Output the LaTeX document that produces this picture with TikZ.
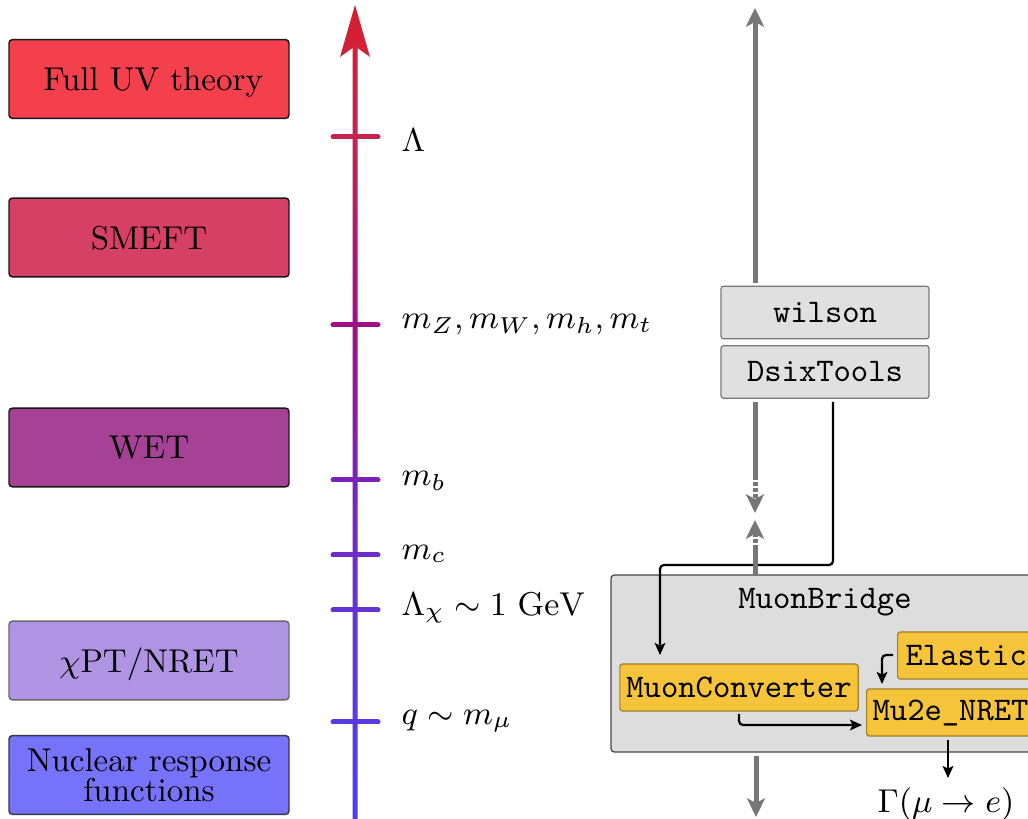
\RequirePackage{fix-cm}
\documentclass[tikz,border=0pt]{standalone}
\usetikzlibrary{arrows.meta}
\definecolor{cUV}{RGB}{244,64,77}
\definecolor{cSM}{RGB}{214,64,101}
\definecolor{cWET}{RGB}{165,66,150}
\definecolor{cCPT}{RGB}{175,148,228}
\definecolor{cNUC}{RGB}{118,114,250}
\definecolor{bdark}{RGB}{25,25,25}
\definecolor{bgrey}{RGB}{105,105,110}
\definecolor{bnuc}{RGB}{55,55,75}
\definecolor{axbot}{RGB}{75,62,245}
\definecolor{axq}{RGB}{88,60,225}
\definecolor{axchi}{RGB}{100,52,210}
\definecolor{axc}{RGB}{110,45,200}
\definecolor{axb}{RGB}{122,35,185}
\definecolor{axz}{RGB}{160,15,135}
\definecolor{axl}{RGB}{196,35,80}
\definecolor{axtop}{RGB}{215,30,45}
\definecolor{garr}{RGB}{119,119,119}
\definecolor{gfill}{RGB}{224,224,224}
\definecolor{gbord}{RGB}{120,120,120}
\definecolor{mbfill}{RGB}{221,221,221}
\definecolor{mbbord}{RGB}{70,70,70}
\definecolor{yfill}{RGB}{245,196,58}
\definecolor{ybord}{RGB}{160,125,40}
\pgfdeclareverticalshading{scaleaxis}{100bp}{color(0bp)=(axbot); color(25bp)=(axbot); color(31bp)=(axq); color(37.8bp)=(axchi); color(41.2bp)=(axc); color(45.8bp)=(axb); color(55.3bp)=(axz); color(66.9bp)=(axl); color(75bp)=(axtop); color(100bp)=(axtop)}
\newcommand\myfont{\fontsize{9.9}{9}\selectfont}
\begin{document}
\begin{tikzpicture}[x=0.3pt,y=-0.3pt,
  lbox/.style={rounded corners=1pt, line width=0.44pt, minimum width=84pt, minimum height=23.6pt, inner sep=0pt, align=center, font=\myfont},
  onel/.style={text depth=0pt},
  tickmark/.style={line width=1.5pt, line cap=round},
  tlabel/.style={anchor=west, inner sep=0pt, font=\myfont},
  gbox/.style={draw=gbord, fill=gfill, line width=0.36pt, rounded corners=0.8pt, minimum width=62.4pt, minimum height=15.8pt, inner sep=0pt, font=\myfont\ttfamily},
  ybox/.style={draw=ybord, fill=yfill, line width=0.36pt, rounded corners=0.8pt, minimum height=14.1pt, inner ysep=0pt, font=\myfont\ttfamily},
  gline/.style={draw=garr, line width=1.5pt},
  ghead/.style={-{Stealth[length=5.6pt,width=5.4pt,inset=1.4pt]}},
  barrow/.style={draw=black, line width=0.66pt, rounded corners=1.2pt, -{Stealth[length=3.6pt,width=3.2pt,inset=0.8pt]}},
  dotpat/.style={dash pattern=on 1.2pt off 0.6pt}]
\useasboundingbox (0,0) rectangle (1028,819);
\clip (0,0) rectangle (1028,819);

% left boxes
\node[lbox, onel, fill=cUV, draw=bdark] (uv) at (149,79) {\hspace{2.5pt}Full UV theory};
\node[lbox, onel, fill=cSM, draw=bdark] (smeft) at (149,237.5) {SMEFT};
\node[lbox, onel, fill=cWET, draw=bdark] (wet) at (149,447.5) {WET};
\node[lbox, onel, fill=cCPT, draw=bgrey] (cpt) at (149,660.5) {$\chi$PT/NRET};
\node[lbox, text depth=-1.2pt, fill=cNUC, draw=bnuc] (nuc) at (149,775) {Nuclear response\\functions};

% scale axis
\shade[shading=scaleaxis] (352.5,819) -- (352.5,48) -- (340,57) -- (355,5) -- (370,57) -- (357.5,48) -- (357.5,819) -- cycle;

\draw[tickmark, draw=axl] (333,137) -- (378,137);
\draw[tickmark, draw=axz] (333,325) -- (378,325);
\draw[tickmark, draw=axb] (333,480) -- (378,480);
\draw[tickmark, draw=axc] (333,555) -- (378,555);
\draw[tickmark, draw=axchi] (333,610) -- (378,610);
\draw[tickmark, draw=axq] (333,722) -- (378,722);

\node[tlabel] (lLam) at (401,140) {$\Lambda$};
\node[tlabel] (lmZ) at (401,325) {$m_Z, m_W, m_h, m_t$};
\node[tlabel] (lmb) at (401,481) {$m_b$};
\node[tlabel] (lmc) at (401,554) {$m_c$};
\node[tlabel] (lchi) at (401,608) {$\Lambda_\chi \sim 1\ \mathrm{GeV}$};
\node[tlabel] (lq) at (401,721) {$q \sim m_\mu$};

% right side boxes
\node[gbox] (wilson) at (825,312.5) {wilson};
\node[gbox] (dsix) at (825,372) {DsixTools};

\node[draw=mbbord, fill=mbfill, line width=0.36pt, rounded corners=1pt, minimum width=135pt, minimum height=53.1pt, inner sep=0pt] (mb) at (836,663.5) {};
\node[inner sep=0pt, font=\myfont\ttfamily] (mblab) at (825,602) {MuonBridge};

\node[ybox, inner xsep=1.96pt] (conv) at (739,687.5) {MuonConverter};
\node[ybox, inner xsep=2.4pt, anchor=west] (elastic) at (897,655.5) {Elastic};
\node[ybox, inner xsep=1.8pt, anchor=west] (mu2e) at (866,712.5) {Mu2e\_NRET};

% black connectors
\coordinate (bA) at (833,402);
\coordinate (bB) at (660,565);
\coordinate (bC) at (660,655);
\draw[barrow] (bA) |- (bB) -- (bC);

\coordinate (cA) at (739,714);
\coordinate (cB) at (862,725);
\draw[barrow] (cA) |- (cB);

\coordinate (eA) at (893,655);
\coordinate (eB) at (882,684);
\draw[barrow] (eA) -| (eB);

\coordinate (mA) at (948,740);
\coordinate (mB) at (948,778);
\draw[barrow] (mA) -- (mB);

\node[inner sep=0pt, font=\myfont] (gam) at (946,804) {$\Gamma(\mu\to e)$};

% grey scale arrows
\coordinate (g1) at (755,283);
\coordinate (gtop) at (755,8);
\draw[gline, ghead] (g1) -- (gtop);

\coordinate (g2) at (755,402);
\coordinate (g3) at (755,476);
\coordinate (g4) at (755,513);
\draw[gline] (g2) -- (g3);
\draw[gline, dotpat, ghead] (g3) -- (g4);

\coordinate (g5) at (755,575);
\coordinate (g6) at (755,549);
\coordinate (g7) at (755,520);
\draw[gline] (g5) -- (g6);
\draw[gline, dotpat, ghead] (g6) -- (g7);

\coordinate (g8) at (756,756);
\coordinate (g9) at (756,817);
\draw[gline, ghead] (g8) -- (g9);
\end{tikzpicture}
\end{document}
